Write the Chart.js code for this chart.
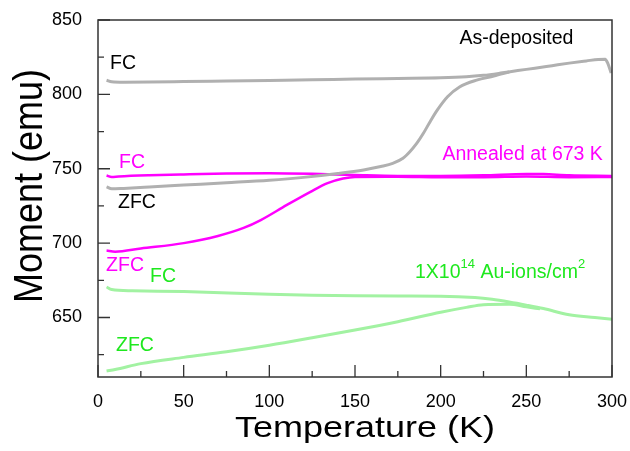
<!DOCTYPE html>
<html lang="en">
<head>
    <title>Moment vs Temperature</title>
    <meta charset="UTF-8">
    <script src="https://cdn.jsdelivr.net/npm/chart.js@4/dist/chart.umd.min.js"></script>
    <style>
        body {margin:0;padding:0;background:#fff;}
        canvas {display:block;}
    </style>
</head>
<body>
<canvas id="momentChart" width="630" height="451"></canvas>
<script>
    // as-deposited film
    const tempAsFC = [5, 8, 15, 30, 50, 75, 100, 125, 150, 175, 200, 215, 225, 235, 245, 255, 265, 275, 285, 292, 296, 297.5, 299.5];
    const momAsFC = [809.5, 808.5, 808.2, 808.3, 808.6, 809.0, 809.4, 809.8, 810.3, 810.7, 811.1, 811.8, 812.8, 814.3, 816.0, 817.6, 819.3, 821.0, 822.5, 823.5, 823.6, 821, 814.3];
    const tempAsZFC = [5, 8, 15, 30, 50, 75, 100, 120, 140, 155, 165, 172, 178, 182, 186, 190, 194, 198, 204, 211, 221, 231, 240];
    const momAsZFC = [737.8, 736.5, 736.8, 737.7, 739.0, 740.6, 742.3, 744.2, 746.8, 749.2, 751.5, 753.6, 757, 761.4, 767, 774, 782, 789.4, 798.4, 805, 809.6, 812.3, 815];

    // annealed at 673 K
    const tempAnFC = [5, 8, 12, 30, 50, 75, 100, 125, 150, 175, 200, 225, 250, 260, 275, 300];
    const momAnFC = [745.5, 744.5, 744.8, 745.6, 746.2, 746.8, 747, 746.6, 745.8, 745.2, 745.2, 745.6, 746.5, 746.4, 745.6, 745.2];
    const tempAnZFC = [5, 10, 25, 50, 70, 85, 95, 110, 124, 134, 143, 150, 175, 200, 225, 250, 275, 300];
    const momAnZFC = [695, 694.2, 696.4, 700, 704.8, 710.2, 715.5, 725.5, 734.5, 740.3, 743.4, 744.5, 744.6, 744.3, 744.3, 744.8, 744.3, 744.5];

    // 1x10^14 Au-ions/cm^2
    const tempAuFC = [5, 8, 20, 50, 100, 125, 150, 175, 200, 220, 230, 240, 250, 260, 275, 290, 300];
    const momAuFC = [670.5, 668.8, 668, 667.4, 665.6, 665, 664.6, 664.4, 664.3, 663.4, 662.2, 660.4, 658.3, 656, 651.8, 650, 648.8];
    const tempAuZFC = [5, 10, 25, 50, 75, 100, 125, 150, 175, 200, 215, 225, 240, 250, 258];
    const momAuZFC = [614, 615, 619, 623.2, 627, 631.4, 636.4, 641.6, 647.2, 653.5, 656.8, 658.6, 658.9, 657.2, 655.8];

    const xTicks = [0, 50, 100, 150, 200, 250, 300];
    const yTicks = [650, 700, 750, 800, 850];

    // annotation labels: [text, T, moment, colour]
    const labels = [
        ['FC', 7, 821, '#000000'],
        ['As-deposited', 211, 837.5, '#000000'],
        ['FC', 12.3, 754.4, '#ff00ff'],
        ['ZFC', 11.7, 727.5, '#000000'],
        ['Annealed at 673 K', 201, 759.2, '#ff00ff'],
        ['ZFC', 4.7, 685, '#ff00ff'],
        ['FC', 30.4, 677.7, '#1ee81e'],
        ['ZFC', 10.5, 631.3, '#1ee81e']
    ];

    const toXY = (ts, ms) => ts.map((t, i) => ({x: t, y: ms[i]}));

    const GRAY = '#b0b0b0', MAG = '#ff00ff', GRN = '#a2f2a2', GRN_TXT = '#1ee81e';
    const FONT = '"Liberation Sans", Arial, sans-serif';

    const decor = {
        id: 'decor',
        afterDraw(chart) {
            const ctx = chart.ctx;
            const xs = chart.scales.x, ys = chart.scales.y;
            const a = chart.chartArea;
            ctx.save();
            // frame
            ctx.strokeStyle = '#333';
            ctx.lineWidth = 1.5;
            ctx.strokeRect(a.left, a.top, a.right - a.left, a.bottom - a.top);
            // inward ticks
            ctx.lineWidth = 1.3;
            ctx.beginPath();
            for (let v = 0; v <= 300; v += 25) {
                const px = xs.getPixelForValue(v);
                const len = v % 50 === 0 ? 12 : 6;
                ctx.moveTo(px, a.bottom);
                ctx.lineTo(px, a.bottom - len);
            }
            for (let v = 625; v <= 850; v += 25) {
                const py = ys.getPixelForValue(v);
                const len = v % 50 === 0 ? 12 : 6;
                ctx.moveTo(a.left, py);
                ctx.lineTo(a.left + len, py);
            }
            ctx.stroke();

            // axis titles
            ctx.fillStyle = '#000';
            ctx.font = '30px ' + FONT;
            ctx.textAlign = 'center';
            ctx.textBaseline = 'alphabetic';
            ctx.save();
            ctx.translate((a.left + a.right) / 2 + 10, 437);
            ctx.scale(1.2, 1);
            ctx.fillText('Temperature (K)', 0, 0);
            ctx.restore();
            ctx.save();
            ctx.font = '36px ' + FONT;
            ctx.translate(42, 186);
            ctx.rotate(-Math.PI / 2);
            ctx.scale(1, 1.15);
            ctx.fillText('Moment (emu)', 0, 0);
            ctx.restore();

            // curve labels
            ctx.font = '19.5px ' + FONT;
            ctx.textAlign = 'left';
            ctx.textBaseline = 'middle';
            labels.forEach(([txt, t, m, col]) => {
                ctx.fillStyle = col;
                ctx.fillText(txt, xs.getPixelForValue(t), ys.getPixelForValue(m));
            });

            // label with superscripts
            let px = xs.getPixelForValue(185), py = ys.getPixelForValue(680.4);
            ctx.fillStyle = GRN_TXT;
            const parts = [['1X10', 0], ['14', 1], [' Au-ions/cm', 0], ['2', 1]];
            parts.forEach(([s, sup]) => {
                ctx.font = (sup ? '13px ' : '19.5px ') + FONT;
                ctx.fillText(s, px, sup ? py - 8 : py);
                px += ctx.measureText(s).width;
            });
            ctx.restore();
        }
    };

    const line = (data, color, width) => ({
        data: data,
        borderColor: color,
        borderWidth: width,
        pointRadius: 0,
        fill: false,
        cubicInterpolationMode: 'monotone'
    });

    new Chart(document.getElementById('momentChart'), {
        type: 'line',
        data: {
            datasets: [
                line(toXY(tempAsFC, momAsFC), GRAY, 3),
                line(toXY(tempAsZFC, momAsZFC), GRAY, 3),
                line(toXY(tempAnFC, momAnFC), MAG, 2.5),
                line(toXY(tempAnZFC, momAnZFC), MAG, 2.5),
                line(toXY(tempAuFC, momAuFC), GRN, 3),
                line(toXY(tempAuZFC, momAuZFC), GRN, 3)
            ]
        },
        options: {
            responsive: false,
            animation: false,
            layout: {padding: {top: 20, right: 18, left: 0, bottom: 0}},
            plugins: {legend: {display: false}, tooltip: {enabled: false}},
            scales: {
                x: {
                    type: 'linear', min: 0, max: 300,
                    afterBuildTicks: (s) => { s.ticks = xTicks.map(v => ({value: v})); },
                    afterFit: (s) => { s.height = 74; },
                    grid: {display: false, drawTicks: true, tickLength: 14},
                    border: {display: false},
                    ticks: {color: '#000', padding: 0, maxRotation: 0,
                        font: {family: FONT, size: 18}}
                },
                y: {
                    type: 'linear', min: 610, max: 850,
                    afterBuildTicks: (s) => { s.ticks = yTicks.map(v => ({value: v})); },
                    afterFit: (s) => { s.width = 98; },
                    grid: {display: false, drawTicks: true, tickLength: 16},
                    border: {display: false},
                    ticks: {color: '#000', padding: 0,
                        font: {family: FONT, size: 18}}
                }
            }
        },
        plugins: [decor]
    });
</script>
</body>
</html>
